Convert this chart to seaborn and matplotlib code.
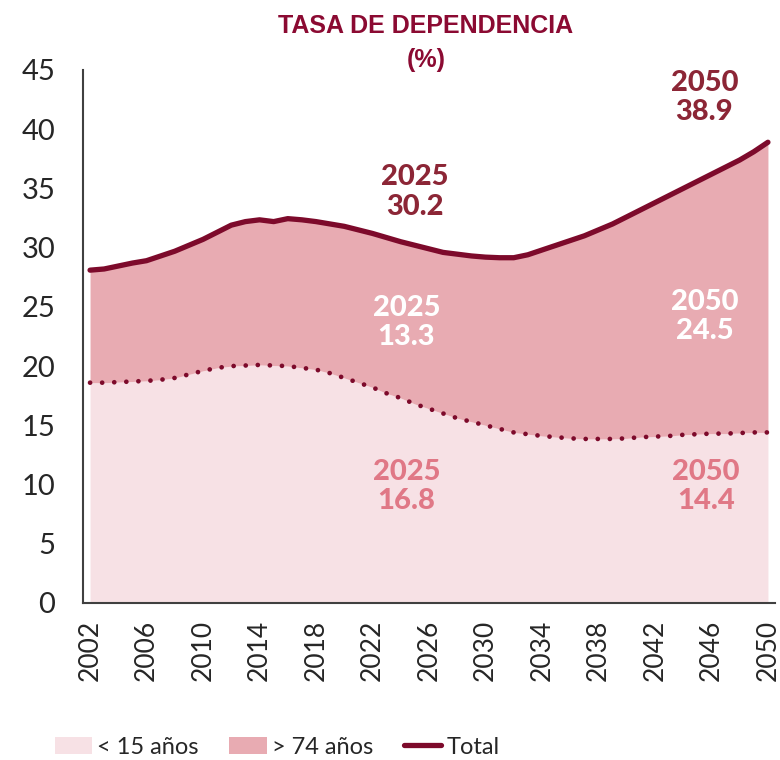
import numpy as np
import pandas as pd
import seaborn as sns
import matplotlib.pyplot as plt
from matplotlib.patches import Patch
from matplotlib.lines import Line2D

years = list(range(2002, 2051))

# < 15 años (lower band)
menores_15 = [18.6, 18.6, 18.65, 18.7, 18.75, 18.85, 19.0, 19.3, 19.6, 19.85,
              20.0, 20.05, 20.1, 20.05, 20.0, 19.85, 19.7, 19.4, 19.0, 18.6,
              18.2, 17.7, 17.3, 16.8, 16.4, 16.0, 15.6, 15.3, 15.0, 14.7,
              14.4, 14.25, 14.1, 14.0, 13.9, 13.85, 13.85, 13.85, 13.9, 14.0,
              14.05, 14.1, 14.2, 14.25, 14.3, 14.3, 14.35, 14.4, 14.4]

# Total dependency rate
total = [28.1, 28.2, 28.45, 28.7, 28.9, 29.3, 29.7, 30.2, 30.7, 31.3,
         31.9, 32.2, 32.35, 32.2, 32.45, 32.35, 32.2, 32.0, 31.8, 31.5,
         31.2, 30.85, 30.5, 30.2, 29.9, 29.6, 29.45, 29.3, 29.2, 29.15,
         29.15, 29.4, 29.8, 30.2, 30.6, 31.0, 31.5, 32.0, 32.6, 33.2,
         33.8, 34.4, 35.0, 35.6, 36.2, 36.8, 37.4, 38.1, 38.9]

tick_years = list(range(2002, 2051, 4))
yticks = list(range(0, 50, 5))

df = pd.DataFrame({"year": years, "menores": menores_15, "total": total})
df["mayores"] = df["total"] - df["menores"]

c_light = "#F7E1E5"
c_mid = "#E8ABB2"
c_line = "#7D0A2B"
c_lab_top = "#8C2636"
c_lab_low = "#E07886"

sns.set_style("white")
plt.rcParams["font.family"] = ["Lato", "DejaVu Sans"]

fig = plt.figure(figsize=(7.8, 7.6), dpi=100)
ax = fig.add_axes([0.1064, 0.2066, 0.8872, 0.7013])

ax.fill_between(df["year"], 0, df["menores"], color=c_light, linewidth=0)
ax.fill_between(df["year"], df["menores"], df["total"], color=c_mid, linewidth=0)
sns.lineplot(x="year", y="menores", data=df, ax=ax, color=c_line, lw=3.4,
             linestyle=(0, (0.01, 2.55)))
ax.lines[-1].set_dash_capstyle("round")
sns.lineplot(x="year", y="total", data=df, ax=ax, color=c_line, lw=3.8,
             solid_capstyle="round")

ax.set_xlim(2001.5, 2050.5)
ax.set_ylim(0, 45)
ax.set_xticks(tick_years)
ax.set_xticklabels([str(y) for y in tick_years], rotation=90, fontsize=19)
ax.set_yticks(yticks)
ax.set_yticklabels([str(v) for v in yticks], fontsize=21)
ax.tick_params(axis="x", length=0, pad=12)
ax.tick_params(axis="y", length=0, pad=20)
ax.set_xlabel("")
ax.set_ylabel("")
for s in ["top", "right"]:
    ax.spines[s].set_visible(False)
for s in ["left", "bottom"]:
    ax.spines[s].set_color("#404040")
    ax.spines[s].set_linewidth(1.5)

kw = dict(ha="center", va="center", fontsize=21, fontweight="black", linespacing=1.15)
ax.text(2025, 34.7, "2025\n30.2", color=c_lab_top, **kw)
ax.text(2045.5, 42.7, "2050\n38.9", color=c_lab_top, **kw)
ax.text(2024.4, 23.7, "2025\n13.3", color="white", **kw)
ax.text(2045.5, 24.2, "2050\n24.5", color="white", **kw)
ax.text(2024.4, 9.8, "2025\n16.8", color=c_lab_low, **kw)
ax.text(2045.6, 9.8, "2050\n14.4", color=c_lab_low, **kw)

fig.text(0.546, 0.966, "TASA DE DEPENDENCIA", ha="center", va="center",
         fontsize=18, fontweight="bold", color="#8B0A32", family="Liberation Sans")
fig.text(0.546, 0.921, "(%)", ha="center", va="center",
         fontsize=18, fontweight="bold", color="#8B0A32", family="Liberation Sans")

handles = [Patch(facecolor=c_light, edgecolor="none", label="< 15 años"),
           Patch(facecolor=c_mid, edgecolor="none", label="> 74 años"),
           Line2D([0], [0], color=c_line, lw=3.8, solid_capstyle="round", label="Total")]
fig.legend(handles=handles, loc="center", bbox_to_anchor=(0.355, 0.017), ncol=3,
           frameon=False, fontsize=17, handlelength=1.6, handleheight=0.75,
           handletextpad=0.2, columnspacing=1.3, borderaxespad=0)

fig.savefig("out.png", dpi=100)
